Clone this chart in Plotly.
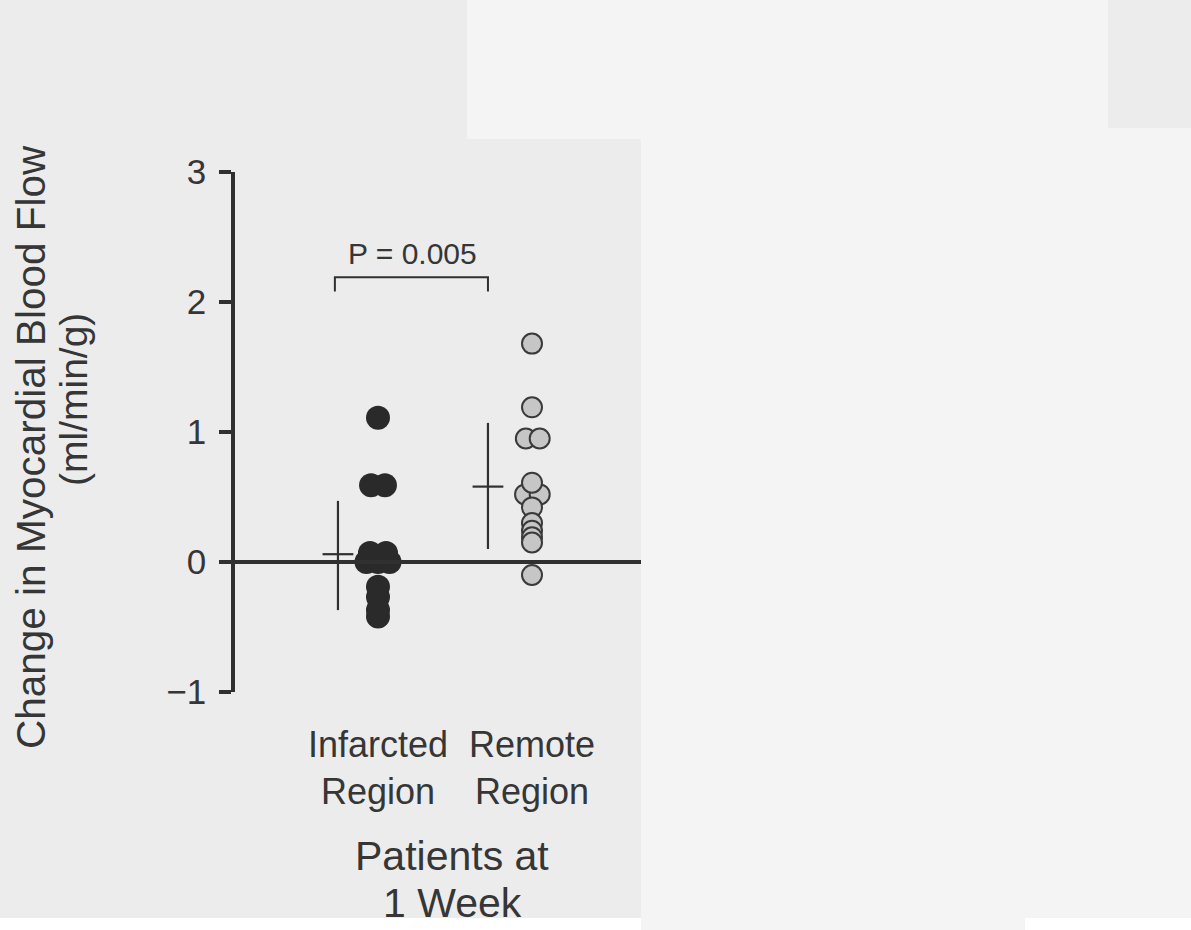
import plotly.graph_objects as go

# ---------------- data ----------------
categories = ["Infarcted<br>Region", "Remote<br>Region"]
cat_pos = [1, 2]

infarct_values = [1.11, 0.59, 0.59, 0.07, 0.07, 0.0, 0.0, 0.0, -0.19, -0.27, -0.37, -0.42]
infarct_jitter = [0.0, -0.045, 0.045, -0.052, 0.052, -0.075, 0.0, 0.075, 0.0, 0.0, 0.0, 0.0]

remote_values = [1.68, 1.19, 0.95, 0.95, 0.52, 0.52, 0.61, 0.42, 0.30, 0.24, 0.19, 0.15, -0.10]
remote_jitter = [0.0, 0.0, -0.04, 0.05, -0.045, 0.05, 0.0, 0.0, 0.0, 0.0, 0.0, 0.0, 0.0]

means = [0.06, 0.58]
sd_plus = [0.41, 0.49]
sd_minus = [0.43, 0.48]
mean_pos = [0.74, 1.714]

p_text = "P = 0.005"
y_ticks = [-1, 0, 1, 2, 3]
y_ticktext = ["\u22121", "0", "1", "2", "3"]

# ---------------- layout geometry ----------------
W, H = 1191, 930
ML, MR, MT, MB = 235, 520, 172, 238
PW, PH = W - ML - MR, H - MT - MB
X0 = 1 - (378 - ML) / 154.0
X1 = 1 + (W - MR - 378) / 154.0


def px(x):
    return (x - ML) / PW


def py(y):
    return (H - MB - y) / PH


INK = "#303030"
TXT = "#363636"
FONT = "Liberation Sans, Arial, Helvetica, sans-serif"

fig = go.Figure()

# infarcted points
fig.add_trace(go.Scatter(
    x=[cat_pos[0] + j for j in infarct_jitter], y=infarct_values,
    mode="markers",
    marker=dict(size=24, color="#2a2a2a", line=dict(width=0)),
    showlegend=False, hoverinfo="y",
))
# remote points
fig.add_trace(go.Scatter(
    x=[cat_pos[1] + j for j in remote_jitter], y=remote_values,
    mode="markers",
    marker=dict(size=20, color="#c6c6c6", line=dict(width=2, color="#3a3a3a")),
    showlegend=False, hoverinfo="y",
))
# mean +/- SD
fig.add_trace(go.Scatter(
    x=mean_pos, y=means, mode="markers",
    marker=dict(symbol="line-ew-open", size=22, color=INK, line=dict(width=2.2, color=INK)),
    error_y=dict(type="data", array=sd_plus, arrayminus=sd_minus, symmetric=False,
                 width=0, thickness=2.2, color=INK),
    showlegend=False, hoverinfo="y",
))
# significance bracket
fig.add_trace(go.Scatter(
    x=[mean_pos[0] - 0.02, mean_pos[0] - 0.02, mean_pos[1], mean_pos[1]],
    y=[2.08, 2.19, 2.19, 2.08], mode="lines",
    line=dict(color=INK, width=2), showlegend=False, hoverinfo="skip",
))

# ---------------- background (scanned page) ----------------
shapes = []
page_scan = "#ececec"
for (x0, y0, x1, y1, col) in [
    (0, 0, 467, 140, page_scan),
    (0, 139, 641, 920, page_scan),
    (1108, 0, W, 128, page_scan),
    (0, 918, 641, H, "#ffffff"),
    (1025, 918, W, H, "#ffffff"),
]:
    shapes.append(dict(type="rect", xref="paper", yref="paper",
                       x0=px(x0), x1=px(x1), y0=py(y1), y1=py(y0),
                       fillcolor=col, line=dict(width=0), layer="below"))

# zero line
shapes.append(dict(type="line", xref="x", yref="y", x0=X0, x1=1 + (641 - 378) / 154.0,
                   y0=0, y1=0, line=dict(color=INK, width=4)))

annotations = [
    dict(text=p_text, x=1.227, y=2.37, xref="x", yref="y", showarrow=False,
         font=dict(size=30, color=TXT, family=FONT)),
    dict(text="Change in Myocardial Blood Flow", x=px(31), y=py(447), xref="paper", yref="paper",
         textangle=-90, showarrow=False, xanchor="center", yanchor="middle",
         font=dict(size=40.5, color=TXT, family=FONT)),
    dict(text="(ml/min/g)", x=px(73), y=py(400), xref="paper", yref="paper",
         textangle=-90, showarrow=False, xanchor="center", yanchor="middle",
         font=dict(size=39, color=TXT, family=FONT)),
    dict(text="Patients at", x=px(452), y=py(856), xref="paper", yref="paper",
         showarrow=False, xanchor="center", yanchor="middle",
         font=dict(size=41, color=TXT, family=FONT)),
    dict(text="1 Week", x=px(452), y=py(903), xref="paper", yref="paper",
         showarrow=False, xanchor="center", yanchor="middle",
         font=dict(size=41, color=TXT, family=FONT)),
]

fig.update_layout(
    width=W, height=H,
    margin=dict(l=ML, r=MR, t=MT, b=MB, pad=0),
    paper_bgcolor="#f4f4f4", plot_bgcolor="rgba(0,0,0,0)",
    shapes=shapes, annotations=annotations,
    xaxis=dict(range=[X0, X1], showgrid=False, zeroline=False, showline=False,
               tickvals=cat_pos, ticktext=categories, ticks="",
               ticklabelstandoff=28,
               tickfont=dict(size=36, color=TXT, family=FONT)),
    yaxis=dict(range=[-1, 3], showgrid=False, zeroline=False, showline=True,
               linecolor=INK, linewidth=3.5, ticks="outside", ticklen=12, tickwidth=3.5,
               tickcolor=INK, tickvals=y_ticks, ticktext=y_ticktext,
               ticklabelstandoff=6,
               tickfont=dict(size=35, color=TXT, family=FONT)),
)

fig.write_html("out.html")
